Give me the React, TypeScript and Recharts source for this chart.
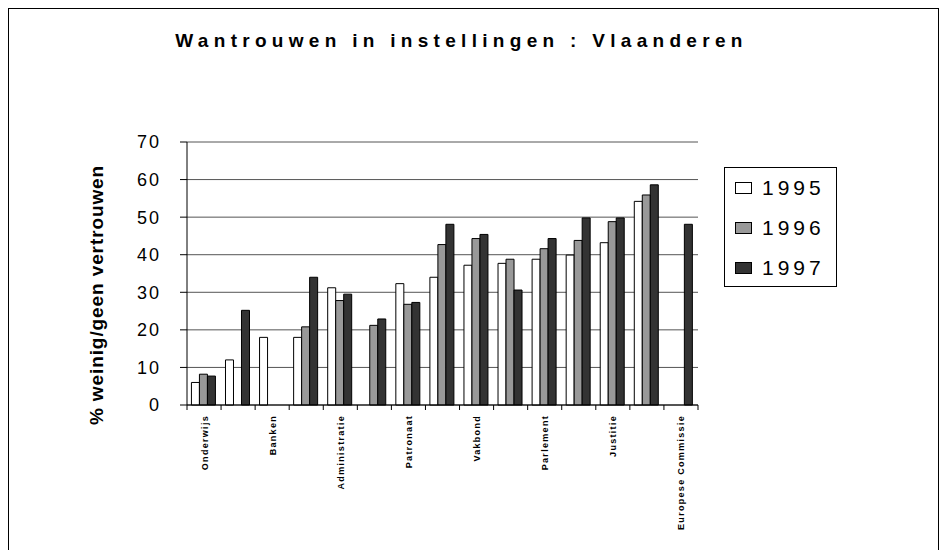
import { Bar, BarChart, CartesianGrid, Legend, XAxis, YAxis } from "recharts"

const categories = [
  "Onderwijs",
  "",
  "Banken",
  "",
  "Administratie",
  "",
  "Patronaat",
  "",
  "Vakbond",
  "",
  "Parlement",
  "",
  "Justitie",
  "",
  "Europese Commissie",
]

const values1995 = [6, 12, 18, 18, 31.2, null, 32.3, 34, 37.2, 37.7, 38.8, 39.9, 43.2, 54.2, null]
const values1996 = [8.2, null, null, 20.8, 27.8, 21.2, 26.8, 42.7, 44.3, 38.8, 41.6, 43.8, 48.8, 55.9, null]
const values1997 = [7.7, 25.2, null, 34, 29.5, 22.9, 27.3, 48.1, 45.4, 30.6, 44.3, 49.8, 49.8, 58.6, 48.1]

const yTicks = [0, 10, 20, 30, 40, 50, 60, 70]

const chartData = categories.map((name, i) => ({
  name,
  y1995: values1995[i],
  y1996: values1996[i],
  y1997: values1997[i],
}))

const FONT = "'Liberation Sans', Arial, sans-serif"
const CHART_W = 929
const CHART_H = 541
const MARGIN = { top: 133, right: 240, left: 0, bottom: 25 }
const Y_AXIS_W = 178
const BAND = (CHART_W - MARGIN.left - MARGIN.right - Y_AXIS_W) / categories.length

function CategoryTick(props: any) {
  const { x, y, payload, index } = props
  const label = payload.value
  const tx = x + 3.5
  const ty = y + 10
  return (
    <g>
      <line x1={x - BAND / 2} x2={x - BAND / 2} y1={y} y2={y + 5} stroke="#000" />
      {index === categories.length - 1 && (
        <line x1={x + BAND / 2} x2={x + BAND / 2} y1={y} y2={y + 5} stroke="#000" />
      )}
      {label && (
        <text
          x={tx}
          y={ty}
          transform={`rotate(-90, ${tx}, ${ty})`}
          textAnchor="end"
          fontFamily={FONT}
          fontWeight="bold"
          fontSize={9}
          letterSpacing={1.3}
          fill="#000"
        >
          {label}
        </text>
      )}
    </g>
  )
}

function LegendBox(props: any) {
  const { payload } = props
  return (
    <div
      style={{
        width: 111,
        height: 118,
        border: "1px solid #000",
        fontFamily: FONT,
        boxSizing: "content-box",
      }}
    >
      {(payload || []).map((entry: any) => (
        <div key={entry.value} style={{ display: "flex", alignItems: "center", height: 40, paddingLeft: 10 }}>
          <span
            style={{
              display: "inline-block",
              width: 15,
              height: 10,
              border: "1.5px solid #000",
              background: entry.color,
              marginRight: 10,
            }}
          />
          <span style={{ fontSize: 21, letterSpacing: 4, color: "#000" }}>{entry.value}</span>
        </div>
      ))}
    </div>
  )
}

export default function App() {
  return (
    <div
      style={{
        position: "relative",
        width: CHART_W,
        height: CHART_H,
        borderTop: "1px solid #000",
        borderLeft: "1px solid #000",
        borderRight: "1px solid #000",
        background: "#fff",
      }}
    >
      <div
        style={{
          position: "absolute",
          left: 0,
          top: 22,
          width: 905,
          textAlign: "center",
          fontFamily: FONT,
          fontWeight: "bold",
          fontSize: 19,
          lineHeight: "20px",
          letterSpacing: 5.3,
          whiteSpace: "nowrap",
        }}
      >
        Wantrouwen in instellingen : Vlaanderen
      </div>
      <div
        style={{
          position: "absolute",
          left: 88,
          top: 286,
          transform: "translate(-50%, -50%) rotate(-90deg)",
          fontFamily: FONT,
          fontWeight: "bold",
          fontSize: 19,
          letterSpacing: 0.9,
          whiteSpace: "nowrap",
        }}
      >
        % weinig/geen vertrouwen
      </div>
      <BarChart
        width={CHART_W}
        height={CHART_H}
        data={chartData}
        margin={MARGIN}
        barCategoryGap="13%"
        barGap={0}
      >
        <CartesianGrid vertical={false} stroke="#555" />
        <XAxis
          dataKey="name"
          interval={0}
          tickLine={false}
          tickSize={0}
          tickMargin={0}
          height={120}
          axisLine={{ stroke: "#000" }}
          tick={<CategoryTick />}
        />
        <YAxis
          width={Y_AXIS_W}
          domain={[0, 70]}
          ticks={yTicks}
          tickSize={7}
          tickMargin={19}
          axisLine={{ stroke: "#000" }}
          tickLine={{ stroke: "#000" }}
          tick={{ fill: "#000", fontSize: 18, fontFamily: FONT, letterSpacing: 2 }}
        />
        <YAxis
          yAxisId="frame"
          orientation="right"
          width={0}
          domain={[0, 70]}
          tick={false}
          tickLine={false}
          axisLine={{ stroke: "#777" }}
        />
        <Legend
          layout="vertical"
          align="center"
          verticalAlign="middle"
          content={<LegendBox />}
          wrapperStyle={{ left: 715, top: 158, width: 113, height: 120 }}
        />
        <Bar dataKey="y1995" name="1995" fill="#ffffff" stroke="#000" isAnimationActive={false} />
        <Bar dataKey="y1996" name="1996" fill="#999999" stroke="#000" isAnimationActive={false} />
        <Bar dataKey="y1997" name="1997" fill="#333333" stroke="#000" isAnimationActive={false} />
      </BarChart>
    </div>
  )
}
